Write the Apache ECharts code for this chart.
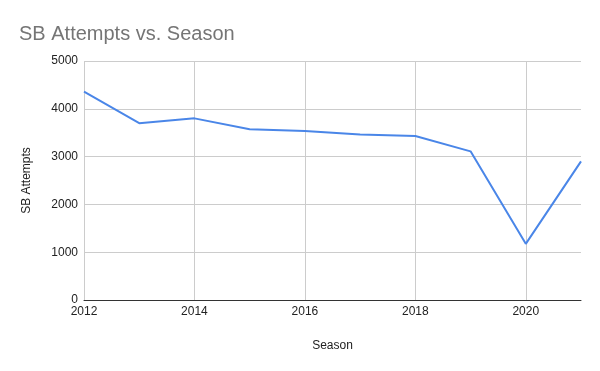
<!DOCTYPE html>
<html><head><meta charset="utf-8">
<script src="https://cdn.jsdelivr.net/npm/echarts@6/dist/echarts.min.js"></script>
<style>html,body{margin:0;padding:0;background:#fff}#c{width:600px;height:371px}</style>
</head><body><div id="c"></div>
<script>
const seasons = [2012, 2013, 2014, 2015, 2016, 2017, 2018, 2019, 2020, 2021];
const sbAttempts = [4360, 3700, 3800, 3570, 3535, 3460, 3430, 3110, 1175, 2900];
const titleText = 'SB Attempts vs. Season';
const xName = 'Season';
const yName = 'SB Attempts';

const chart = echarts.init(document.getElementById('c'), null, {renderer: 'canvas'});
const font = 'Liberation Sans, Arial, sans-serif';
chart.setOption({
  animation: false,
  title: {text: titleText, left: 14, top: 19, textStyle: {fontFamily: font, fontSize: 20, fontWeight: 'normal', color: '#757575'}},
  grid: {left: 84, right: 19, top: 61, bottom: 71, containLabel: false},
  xAxis: {
    type: 'value', min: 2012, max: 2021, interval: 2,
    name: xName, nameLocation: 'middle', nameGap: 40,
    nameTextStyle: {fontFamily: font, fontSize: 12, color: '#222'},
    axisLine: {show: true, lineStyle: {color: '#333', width: 1}},
    axisTick: {show: false},
    axisLabel: {fontFamily: font, fontSize: 12, color: '#222', margin: 6, showMaxLabel: false, formatter: v => String(v)},
    splitLine: {show: true, lineStyle: {color: ['#cccccc', '#cccccc', '#cccccc', '#cccccc', '#cccccc', 'rgba(0,0,0,0)']}}
  },
  yAxis: {
    type: 'value', min: 0, max: 5000, interval: 1000,
    name: yName, nameLocation: 'middle', nameGap: 51, nameRotate: 90,
    nameTextStyle: {fontFamily: font, fontSize: 12, color: '#222'},
    axisLine: {show: false}, axisTick: {show: false},
    axisLabel: {fontFamily: font, fontSize: 12, color: '#222', margin: 6, formatter: v => String(v)},
    splitLine: {show: true, lineStyle: {color: '#cccccc'}}
  },
  series: [{
    type: 'line', data: seasons.map((s, i) => [s, sbAttempts[i]]),
    showSymbol: false, lineStyle: {color: '#4a86e8', width: 2}, itemStyle: {color: '#4a86e8'}
  }]
});
</script></body></html>
